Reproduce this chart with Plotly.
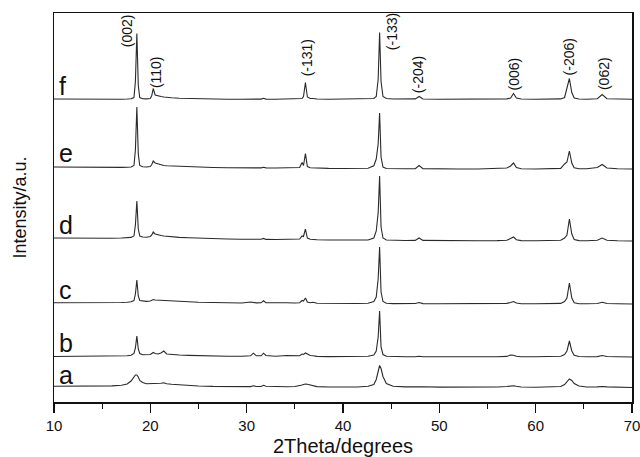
import plotly.graph_objects as go

# 2-theta grid shared by all patterns (degrees)
two_theta = [10.0, 11.5, 13.0, 14.5, 16.0, 17.0, 17.6, 18.0, 18.3, 18.45,
             18.6, 18.75, 18.9, 19.2, 19.6, 20.0, 20.15, 20.3, 20.5, 20.8,
             21.1, 21.4, 21.7, 22.2, 23.0, 24.0, 25.0, 26.5, 28.0, 29.5,
             30.4, 30.7, 31.0, 31.5, 31.75, 32.0, 33.0, 34.15, 35.0, 35.5,
             35.75, 35.9, 36.1, 36.3, 36.6, 36.9, 37.3, 38.5, 40.0, 41.5,
             42.6, 43.2, 43.45, 43.65, 43.8, 43.95, 44.15, 44.5, 45.2, 46.5,
             47.5, 47.9, 48.3, 50.0, 52.0, 54.0, 56.0, 57.0, 57.4, 57.7,
             58.0, 58.5, 60.0, 61.5, 62.6, 63.0, 63.25, 63.5, 63.75, 64.0,
             64.5, 65.3, 66.4, 66.9, 67.4, 68.5, 70.0]

# intensities (a.u.) of each pattern above its own baseline
int_f = [0.5, 0.3, 0.3, 0.2, 0.3, 0.3, 0.5, 0.8, 2, 18,
         66, 14, 2, 0.8, 0.6, 1, 4, 11, 4.5, 3.5,
         3, 2.5, 2, 1.8, 1.3, 1, 0.8, 0.5, 0.3, 0.3,
         0.3, 0.4, 0.3, 0.4, 1.2, 0.4, 0.3, 0.4, 0.4, 0.5,
         1, 3, 17, 2.5, 1, 1, 0.5, 0.3, 0.3, 0.4,
         0.6, 1, 3, 20, 67, 18, 3, 1, 0.5, 0.4,
         0.6, 3, 0.5, 0.3, 0.3, 0.3, 0.5, 0.6, 1.5, 6,
         1.5, 0.5, 0.3, 0.3, 0.6, 2, 12, 21, 7, 1.5,
         0.5, 0.3, 0.8, 5, 0.8, 0.3, 0.2]
int_e = [2, 1.8, 1.6, 1.6, 1.5, 1.6, 1.8, 2, 3.5, 19,
         62, 15, 3.5, 2.2, 2, 2.5, 4.5, 8, 6, 5,
         4, 3.5, 3.2, 3, 2.5, 2, 1.8, 1.5, 1.2, 1.1,
         1.1, 1.1, 1.1, 1.1, 1.8, 1.1, 1, 1, 1, 1.5,
         6.5, 3.5, 15.5, 2.5, 1.3, 1.1, 0.8, 0.6, 0.5, 0.5,
         0.8, 3.2, 10, 25, 56, 12, 2, 0.5, 0.2, 0.2,
         0.4, 3.5, 0.4, 0, 0, 0, 0.3, 1, 3, 6,
         1.5, 0.3, 0, 0, 0.6, 5, 7, 18, 6, 1.2,
         0.3, 0.2, 1.5, 4.5, 1, 0.2, 0]
int_d = [3, 2.8, 2.8, 2.7, 2.8, 3, 3.2, 3.6, 5, 16,
         40, 12, 5, 4, 3.8, 4.5, 6, 9, 7, 6,
         5.5, 5, 4.6, 4.2, 3.6, 3.2, 2.8, 2.4, 2, 1.8,
         1.7, 1.7, 1.6, 1.7, 2.6, 1.6, 1.5, 1.5, 1.5, 2,
         5, 4.5, 12, 3, 1.8, 1.8, 1.3, 1, 0.8, 0.8,
         1, 3, 10, 28, 65, 14, 3, 1, 0.6, 0.5,
         0.6, 3, 0.6, 0.3, 0.3, 0.3, 0.4, 0.8, 2.5, 4,
         1.3, 0.4, 0.2, 0.2, 0.8, 3, 6, 22, 7, 1.5,
         0.4, 0.2, 0.8, 3, 0.8, 0.2, 0]
int_c = [1.3, 1.2, 1.2, 1.3, 1.3, 1.5, 1.8, 2.2, 3.5, 10,
         24, 8, 3.5, 2.8, 2.6, 3, 3.8, 4.5, 4, 3.8,
         3.6, 4, 3.4, 3, 2.6, 2.2, 1.8, 1.4, 1.1, 1,
         2, 1.5, 1.1, 1.2, 3.2, 1.4, 1, 1.2, 1, 1.3,
         3.5, 3, 6, 2, 1.2, 1.8, 0.8, 0.6, 0.5, 0.5,
         0.8, 2.5, 7, 25, 57, 12, 2.5, 0.8, 0.4, 0.3,
         0.5, 1.5, 0.4, 0.2, 0.2, 0.2, 0.3, 0.6, 1.5, 2.5,
         1, 0.3, 0.2, 0.2, 0.6, 2.5, 6, 21, 6, 1.3,
         0.3, 0.2, 0.5, 1.8, 0.5, 0.2, 0]
int_b = [0.5, 0.5, 0.5, 0.6, 0.6, 0.8, 1.2, 1.8, 3.5, 9,
         21, 8, 3.5, 2.2, 2, 2.5, 3.5, 4.5, 3.5, 3,
         4, 6, 3, 2.5, 2, 1.6, 1.2, 0.9, 0.7, 0.8,
         1.2, 3.8, 1.2, 1.2, 3.8, 1.5, 0.8, 1.5, 0.9, 1.2,
         3, 2.5, 4, 3, 1.5, 1.2, 0.6, 0.4, 0.3, 0.4,
         0.7, 2, 6, 20, 46, 10, 2.5, 0.8, 0.4, 0.2,
         0.3, 0.8, 0.3, 0.1, 0.1, 0.2, 0.3, 0.6, 2, 1.8,
         0.8, 0.3, 0.2, 0.2, 0.8, 2.5, 6, 16, 6, 1.8,
         0.5, 0.2, 0.4, 1.5, 0.5, 0.2, 0]
int_a = [1.2, 1.2, 1.3, 1.4, 1.6, 2.2, 3.5, 6.5, 10.5, 12.5,
         12.5, 10.5, 7, 5, 3.8, 3.8, 4, 4.2, 4.2, 4.2,
         4.3, 4.8, 3.8, 3.2, 2.6, 2, 1.5, 1.1, 0.9, 0.8,
         0.9, 1.8, 1, 1, 2.2, 1.2, 0.8, 0.8, 1, 1.5,
         2.5, 3, 3.5, 3.2, 2.5, 1.5, 0.9, 0.5, 0.4, 0.5,
         1.2, 3, 8, 17, 22, 19, 11, 4, 1.3, 0.6,
         0.8, 1.2, 0.8, 0.4, 0.3, 0.3, 0.5, 1, 1.5, 1.8,
         1.2, 0.5, 0.3, 0.3, 1, 3, 6, 8.5, 7, 4,
         1.5, 0.5, 0.6, 1, 0.6, 0.3, 0]

sample_names = ["a", "b", "c", "d", "e", "f"]
sample_offsets = [14.5, 45, 98, 161, 233, 302.5]
sample_intensities = [int_a, int_b, int_c, int_d, int_e, int_f]
name_label_y = [27, 59, 112, 177, 249, 316]

# Miller indices labels (above pattern f)
hkl_labels = ["(002)", "(110)", "(-131)", "(-133)", "(-204)", "(006)", "(-206)", "(062)"]
hkl_x = [17.6, 20.6, 36.3, 45.1, 47.8, 57.7, 63.5, 67.1]
hkl_y = [371, 330, 344, 370, 327, 328, 345, 328]

FONT = "Liberation Sans, Arial, sans-serif"
LINE = "#2a2a2a"

fig = go.Figure()
for name, off, inten in zip(sample_names, sample_offsets, sample_intensities):
    fig.add_trace(go.Scatter(
        x=two_theta, y=[off + v for v in inten], mode="lines",
        line=dict(color=LINE, width=1.1), name=name, showlegend=False,
        hoverinfo="skip"))

annotations = []
for name, ly in zip(sample_names, name_label_y):
    annotations.append(dict(x=10.3, y=ly, xref="x", yref="y", text=name,
                            showarrow=False, xanchor="left", yanchor="middle",
                            font=dict(family=FONT, size=25, color="#111")))
for t, hx, hy in zip(hkl_labels, hkl_x, hkl_y):
    annotations.append(dict(x=hx, y=hy, xref="x", yref="y", text=t,
                            showarrow=False, textangle=-90,
                            xanchor="center", yanchor="middle",
                            font=dict(family=FONT, size=14, color="#111")))

fig.update_layout(
    width=640, height=457,
    margin=dict(l=54, r=8, t=13, b=55),
    paper_bgcolor="white", plot_bgcolor="white",
    font=dict(family=FONT, color="#111"),
    showlegend=False,
    annotations=annotations,
    xaxis=dict(range=[10, 70], dtick=10, tick0=10, automargin=False,
               showline=True, linecolor="#111", linewidth=1.5, mirror=True,
               ticks="outside", ticklen=9, tickwidth=1.2, tickcolor="#111",
               ticklabelstandoff=0, ticklabeloverflow="allow",
               tickfont=dict(family=FONT, size=15, color="#111"),
               minor=dict(dtick=5, tick0=15, ticks="outside", ticklen=5,
                          tickwidth=1.2, tickcolor="#111", showgrid=False),
               showgrid=False, zeroline=False,
               title=dict(text="2Theta/degrees", standoff=13,
                          font=dict(family=FONT, size=20, color="#111"))),
    yaxis=dict(range=[0, 389], showticklabels=False, ticks="", automargin=False,
               showline=True, linecolor="#111", linewidth=1.5, mirror=True,
               showgrid=False, zeroline=False,
               title=dict(text="Intensity/a.u.", standoff=21,
                          font=dict(family=FONT, size=18, color="#111"))),
)

fig.write_html("out.html",
               config={"displayModeBar": False, "staticPlot": True},
               post_script="document.body.style.margin='0';"
                           "document.body.style.overflow='hidden';")
